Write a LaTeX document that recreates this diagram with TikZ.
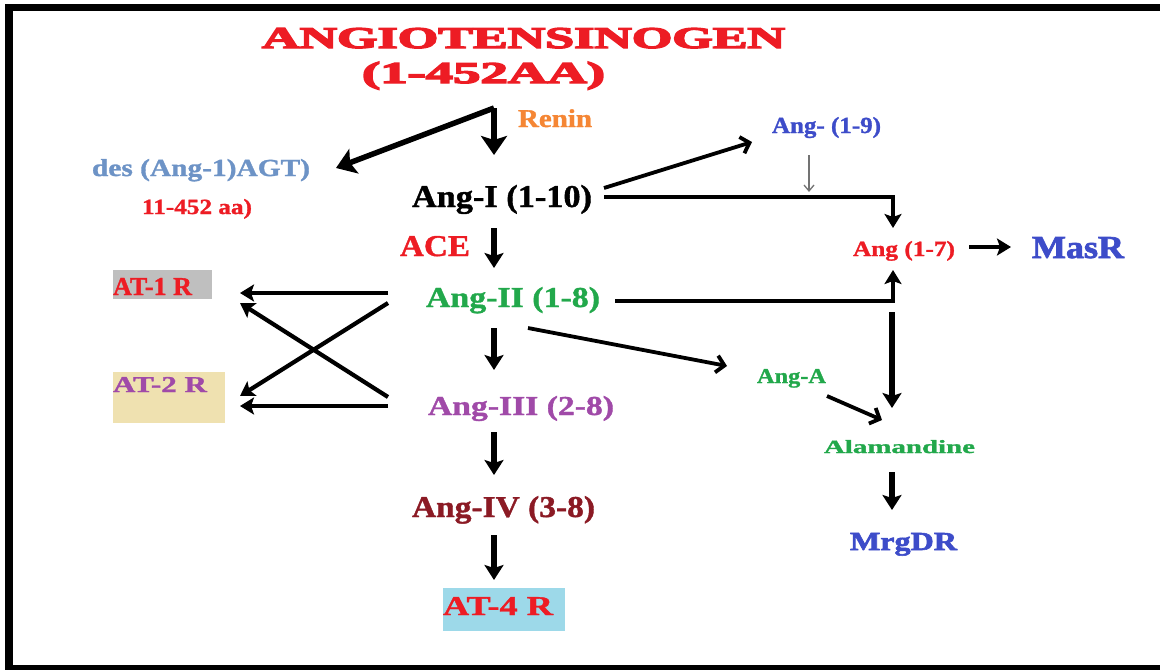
\documentclass[tikz,border=0pt]{standalone}
\usepackage{fontspec}
\setmainfont{Liberation Serif}[BoldFeatures={FakeBold=1.2}]
\newfontfamily\heavyfont{Liberation Serif Bold}[FakeBold=4]
\newfontfamily\semiheavy{Liberation Serif Bold}[FakeBold=2.2]
\usetikzlibrary{arrows.meta}
\definecolor{tred}{HTML}{ED1C24}
\definecolor{torange}{HTML}{F58634}
\definecolor{tsteel}{HTML}{6D93C6}
\definecolor{tgreen}{HTML}{22A84B}
\definecolor{tpurple}{HTML}{A04AA8}
\definecolor{tmaroon}{HTML}{8B1A24}
\definecolor{tblue}{HTML}{3D4CC9}
\definecolor{boxgray}{HTML}{BFBFBF}
\definecolor{boxbeige}{HTML}{EFE1B0}
\definecolor{boxblue}{HTML}{9DD9E9}
\newcommand{\fitt}[3]{\resizebox{#1pt}{#2pt}{\bfseries #3}}
\newcommand{\fith}[3]{\resizebox{#1pt}{#2pt}{\heavyfont #3}}
\newcommand{\fits}[3]{\resizebox{#1pt}{#2pt}{\semiheavy #3}}
\begin{document}
\begin{tikzpicture}[x=1pt,y=-1pt,
  txt/.style={inner sep=0pt,outer sep=0pt,anchor=base west},
  arr/.style={line width=5.5pt,-{Stealth[length=15pt,width=19pt,inset=3pt]}},
  darr/.style={line width=4.2pt,-{Stealth[length=14pt,width=17pt,inset=3pt]}},
  barr/.style={line width=3.8pt,-{Straight Barb[length=8pt,width=17pt,line width=3.8pt]}},
  thinarr/.style={line width=1.5pt,black!55,-{Straight Barb[length=6pt,width=10pt,line width=1.3pt]}}]
\useasboundingbox (0,0) rectangle (1160,670);
% frame
\fill[black] (5,3.5) rectangle (1160,11);
\fill[black] (5,3.5) rectangle (13,670);
\fill[black] (5,665) rectangle (1160,670);
% boxes
\fill[boxgray] (113,270) rectangle (212,299);
\fill[boxbeige] (113,372) rectangle (225,423);
\fill[boxblue] (443,588) rectangle (565,631);
% texts
\node[txt,text=tred] (t1) at (262,48) {\fith{523}{20}{ANGIOTENSINOGEN}};
\node[txt,text=tred] (t2) at (362,83) {\fith{243}{21}{(1-452AA)}};
\node[txt,text=torange] (renin) at (518,127) {\fitt{74}{17.8}{Renin}};
\node[txt,text=tsteel] (des) at (92,176) {\fitt{218}{17}{des (Ang-1)AGT)}};
\node[txt,text=tred] (aa) at (142,214) {\fitt{110}{15}{11-452 aa)}};
\node[txt,text=black] (angI) at (412,207) {\fitt{180}{22}{Ang-I (1-10)}};
\node[txt,text=tred] (ace) at (400,256) {\fitt{70}{20}{ACE}};
\node[txt,text=tgreen] (ang2) at (426,307) {\fitt{174}{20}{Ang-II (1-8)}};
\node[txt,text=tpurple] (ang3) at (428,415) {\fitt{186}{19}{Ang-III (2-8)}};
\node[txt,text=tmaroon] (ang4) at (412,517) {\fitt{183}{21}{Ang-IV (3-8)}};
\node[txt,text=tred] (at4) at (443,615) {\fitt{110}{18}{AT-4 R}};
\node[txt,text=tred] (at1) at (113,295) {\fitt{79}{17}{AT-1 R}};
\node[txt,text=tpurple] (at2) at (113,392) {\fitt{94}{15}{AT-2 R}};
\node[txt,text=tblue] (ang9) at (772,133) {\fitt{109}{16}{Ang- (1-9)}};
\node[txt,text=tred] (ang7) at (853,256) {\fitt{102}{15}{Ang (1-7)}};
\node[txt,text=tblue] (masr) at (1032,258) {\fits{92}{21}{MasR}};
\node[txt,text=tgreen] (angA) at (757,383) {\fitt{69}{14}{Ang-A}};
\node[txt,text=tgreen] (alam) at (824,453) {\fitt{151}{13}{Alamandine}};
\node[txt,text=tblue] (mrg) at (850,550) {\fits{107}{17}{MrgDR}};
% connectors
\coordinate (split) at ([shift={(132,25)}]t2.base west);
\draw[line width=6.5pt,-{Stealth[length=19pt,width=26pt,inset=4pt]}] (split) -- ([shift={(82,-52)}]angI.base west);
\draw[line width=5.5pt,-{Stealth[length=19pt,width=26pt,inset=4pt]}] (split) -- ([shift={(244,-8)}]des.base west);
\draw[barr] ([shift={(192,-19)}]angI.base west) -- ([shift={(-20,9)}]ang9.base west);
\draw[darr] ([shift={(192,-10)}]angI.base west) -| ([shift={(40,-28)}]ang7.base west);
\draw[thinarr] ([shift={(37,22)}]ang9.base west) -- ([shift={(37,59)}]ang9.base west);
\draw[arr] ([shift={(82,21)}]angI.base west) -- ([shift={(68,-39)}]ang2.base west);
\draw[darr] ([shift={(-38,-14)}]ang2.base west) -- ([shift={(127,-2)}]at1.base west);
\draw[darr] ([shift={(-38,-4)}]ang2.base west) -- ([shift={(127,4)}]at2.base west);
\draw[darr] ([shift={(-40,-18)}]ang3.base west) -- ([shift={(127,8)}]at1.base west);
\draw[darr] ([shift={(-40,-9)}]ang3.base west) -- ([shift={(127,14)}]at2.base west);
\draw[arr] ([shift={(68,21)}]ang2.base west) -- ([shift={(66,-45)}]ang3.base west);
\draw[darr] ([shift={(189,-6)}]ang2.base west) -| ([shift={(40,14)}]ang7.base west);
\draw[barr] ([shift={(102,21)}]ang2.base west) -- ([shift={(-30,-17)}]angA.base west);
\draw[darr] ([shift={(116,-9)}]ang7.base west) -- ([shift={(-21,-11)}]masr.base west);
\draw[arr] ([shift={(39,56)}]ang7.base west) -- ([shift={(68,-45)}]alam.base west);
\draw[barr] ([shift={(70,13)}]angA.base west) -- ([shift={(58,-33)}]alam.base west);
\draw[arr] ([shift={(68,19)}]alam.base west) -- ([shift={(42,-40)}]mrg.base west);
\draw[arr] ([shift={(66,17)}]ang3.base west) -- ([shift={(82,-42)}]ang4.base west);
\draw[arr] ([shift={(82,18)}]ang4.base west) -- ([shift={(51,-35)}]at4.base west);
\end{tikzpicture}
\end{document}
